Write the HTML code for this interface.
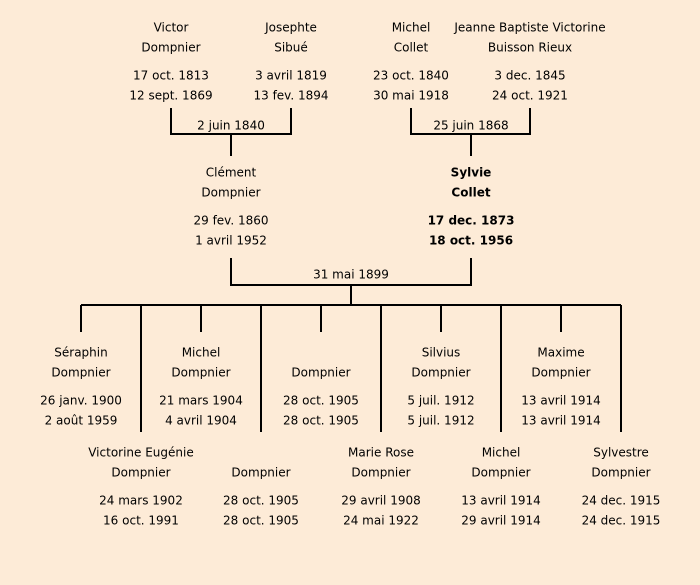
<!DOCTYPE html>
<html><head><meta charset="utf-8"><style>
html,body{margin:0;padding:0;background:#fdebd7;}
svg{display:block}
text{font-family:"DejaVu Sans","Liberation Sans",sans-serif;font-size:12px;fill:#000;text-anchor:middle;dominant-baseline:middle}
.b{font-weight:bold}
</style></head><body>
<svg width="700" height="585" viewBox="0 0 700 585">
<rect width="700" height="585" fill="#fdebd7"/>
<g stroke="#000" stroke-width="2" fill="none">
<path d="M171 108V134H291V108M231 134V156"/>
<path d="M411 108V134H530V108M471 134V156"/>
<path d="M231 258V285H471V258M351 285V305"/>
<path d="M81 305H621"/>
<path d="M81 305V332M201 305V332M321 305V332M441 305V332M561 305V332"/>
<path d="M141 305V432M261 305V432M381 305V432M501 305V432M621 305V432"/>
</g>
<g transform="translate(0,1)">
<text x="171" y="27">Victor</text><text x="171" y="47">Dompnier</text><text x="171" y="75">17 oct. 1813</text><text x="171" y="95">12 sept. 1869</text>
<text x="291" y="27">Josephte</text><text x="291" y="47">Sibué</text><text x="291" y="75">3 avril 1819</text><text x="291" y="95">13 fev. 1894</text>
<text x="411" y="27">Michel</text><text x="411" y="47">Collet</text><text x="411" y="75">23 oct. 1840</text><text x="411" y="95">30 mai 1918</text>
<text x="530" y="27">Jeanne Baptiste Victorine</text><text x="530" y="47">Buisson Rieux</text><text x="530" y="75">3 dec. 1845</text><text x="530" y="95">24 oct. 1921</text>
<text x="231" y="125">2 juin 1840</text><text x="471" y="125">25 juin 1868</text>
<text x="231" y="172">Clément</text><text x="231" y="192">Dompnier</text><text x="231" y="220">29 fev. 1860</text><text x="231" y="240">1 avril 1952</text>
<text class="b" x="471" y="172">Sylvie</text><text class="b" x="471" y="192">Collet</text><text class="b" x="471" y="220">17 dec. 1873</text><text class="b" x="471" y="240">18 oct. 1956</text>
<text x="351" y="274">31 mai 1899</text>
<text x="81" y="352">Séraphin</text><text x="81" y="372">Dompnier</text><text x="81" y="400">26 janv. 1900</text><text x="81" y="420">2 août 1959</text>
<text x="201" y="352">Michel</text><text x="201" y="372">Dompnier</text><text x="201" y="400">21 mars 1904</text><text x="201" y="420">4 avril 1904</text>
<text x="321" y="372">Dompnier</text><text x="321" y="400">28 oct. 1905</text><text x="321" y="420">28 oct. 1905</text>
<text x="441" y="352">Silvius</text><text x="441" y="372">Dompnier</text><text x="441" y="400">5 juil. 1912</text><text x="441" y="420">5 juil. 1912</text>
<text x="561" y="352">Maxime</text><text x="561" y="372">Dompnier</text><text x="561" y="400">13 avril 1914</text><text x="561" y="420">13 avril 1914</text>
<text x="141" y="452">Victorine Eugénie</text><text x="141" y="472">Dompnier</text><text x="141" y="500">24 mars 1902</text><text x="141" y="520">16 oct. 1991</text>
<text x="261" y="472">Dompnier</text><text x="261" y="500">28 oct. 1905</text><text x="261" y="520">28 oct. 1905</text>
<text x="381" y="452">Marie Rose</text><text x="381" y="472">Dompnier</text><text x="381" y="500">29 avril 1908</text><text x="381" y="520">24 mai 1922</text>
<text x="501" y="452">Michel</text><text x="501" y="472">Dompnier</text><text x="501" y="500">13 avril 1914</text><text x="501" y="520">29 avril 1914</text>
<text x="621" y="452">Sylvestre</text><text x="621" y="472">Dompnier</text><text x="621" y="500">24 dec. 1915</text><text x="621" y="520">24 dec. 1915</text>
</g>
</svg>
</body></html>
